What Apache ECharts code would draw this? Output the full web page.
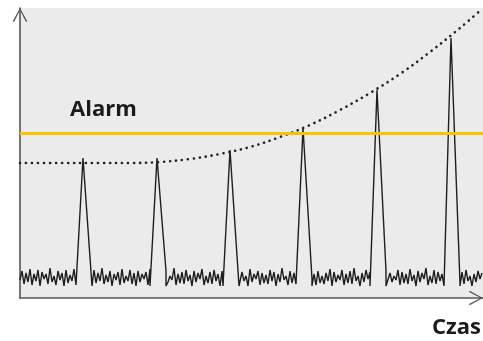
<!DOCTYPE html>
<html>
<head>
<meta charset="utf-8">
<script src="https://cdn.jsdelivr.net/npm/echarts@6/dist/echarts.min.js"></script>
<style>html,body{margin:0;padding:0;background:#fff;}#c{width:483px;height:341px;}</style>
</head>
<body>
<div id="c"></div>
<script>
// Background noise of the signal, sampled every 2 time units
var noiseStep = 2;
var noise = [
18,27,14,25,16,29,13,24,17,28,12,26,19,24,14,30,16,22,13,27,
18,25,12,28,15,23,17,29,13,26,16,24,14,27,19,22,12,28,15,25,
17,30,14,23,16,27,12,24,18,26,13,29,15,22,17,28,14,25,12,27,
16,24,19,26,13,29,15,23,14,28,17,25,12,27,16,22,18,30,13,24,
15,26,14,28,17,23,12,27,16,25,19,29,13,22,15,26,14,28,17,24,
12,27,16,30,18,23,13,25,15,28,14,26,17,22,12,29,16,24,19,27,
13,25,15,23,14,28,17,26,12,24,16,30,18,22,13,27,15,25,14,29,
17,23,12,26,16,28,19,24,13,27,15,22,14,25,17,29,12,26,16,23,
18,28,13,24,15,27,14,30,17,22,12,25,16,28,19,26,13,23,15,29,
14,24,17,27,12,25,16,22,18,28,13,26,15,24,14,29,17,23,12,27,
16,25,19,30,13,22,15,28,14,26,17,24,12,27,16,23,18,29,13,25,
15,26,14,28,17,22,12,24,16,27,19,25
];
// Peaks: time position and peak amplitude
var peakTimes   = [63, 137, 210, 283, 357, 431];
var peakHeights = [140, 140, 148, 170, 208, 260];
var peakBase = 12;
// Dotted trend (threshold envelope) curve
var trendX = [0, 40, 80, 111, 140, 170, 200, 230, 260, 290, 320, 350, 380, 410, 440, 462];
var trendY = [135, 135, 135, 135, 136, 139, 144, 151, 161, 173, 188, 205, 224, 246, 270, 289];
// Alarm level
var alarmLevel = 165;
var xMax = 463, yMax = 290;

var signal = [];
for (var i = 0; i < noise.length; i++) {
  var x = i * noiseStep, skip = false;
  for (var k = 0; k < peakTimes.length; k++) {
    if (x > peakTimes[k] - 7 && x < peakTimes[k] + 9) skip = true;
  }
  if (!skip) signal.push([x, noise[i]]);
}
for (var k = 0; k < peakTimes.length; k++) {
  signal.push([peakTimes[k] - 7, peakBase]);
  signal.push([peakTimes[k], peakHeights[k]]);
  signal.push([peakTimes[k] + 9, peakBase]);
}
signal.sort(function (a, b) { return a[0] - b[0]; });
var trend = trendX.map(function (x, i) { return [x, trendY[i]]; });

var chev = 'path://M8,0 L16,14.6 L14.6,15.4 L8,2.4 L1.4,15.4 L0,14.6 Z';
var axisLine = {
  show: true, onZero: false,
  symbol: ['none', chev], symbolSize: [16, 14], symbolOffset: [0, -7],
  lineStyle: { color: '#555', width: 1.6 }
};
var chart = echarts.init(document.getElementById('c'));
chart.setOption({
  animation: false,
  backgroundColor: '#ffffff',
  grid: { left: 20, top: 8, right: 0, bottom: 43, show: true, backgroundColor: '#ebebeb', borderWidth: 0 },
  title: {
    text: 'Czas', right: 2, top: 317, padding: 0,
    textStyle: { fontFamily: 'Open Sans', fontWeight: 'bold', fontSize: 22, color: '#1a1a1a' }
  },
  xAxis: {
    type: 'value', min: 0, max: xMax,
    axisLine: axisLine, axisTick: { show: false }, axisLabel: { show: false }, splitLine: { show: false }
  },
  yAxis: {
    type: 'value', min: 0, max: yMax,
    axisLine: axisLine, axisTick: { show: false }, axisLabel: { show: false }, splitLine: { show: false }
  },
  series: [
    {
      type: 'line', data: signal, showSymbol: false, symbol: 'none',
      lineStyle: { color: '#1e1e1e', width: 1.4 }, z: 3,
      markLine: {
        silent: true, symbol: ['none', 'none'],
        lineStyle: { color: '#f5c400', width: 3, type: 'solid' },
        label: {
          show: true, formatter: 'Alarm', position: 'insideStartTop', distance: [50, 12],
          fontFamily: 'Open Sans', fontWeight: 'bold', fontSize: 22, color: '#1a1a1a'
        },
        data: [{ yAxis: alarmLevel }]
      }
    },
    {
      type: 'line', data: trend, showSymbol: false, symbol: 'none', smooth: 0.35,
      lineStyle: { color: '#222', width: 2.6, type: [0.1, 5.9], cap: 'round' }, z: 4
    }
  ]
});
</script>
</body>
</html>
